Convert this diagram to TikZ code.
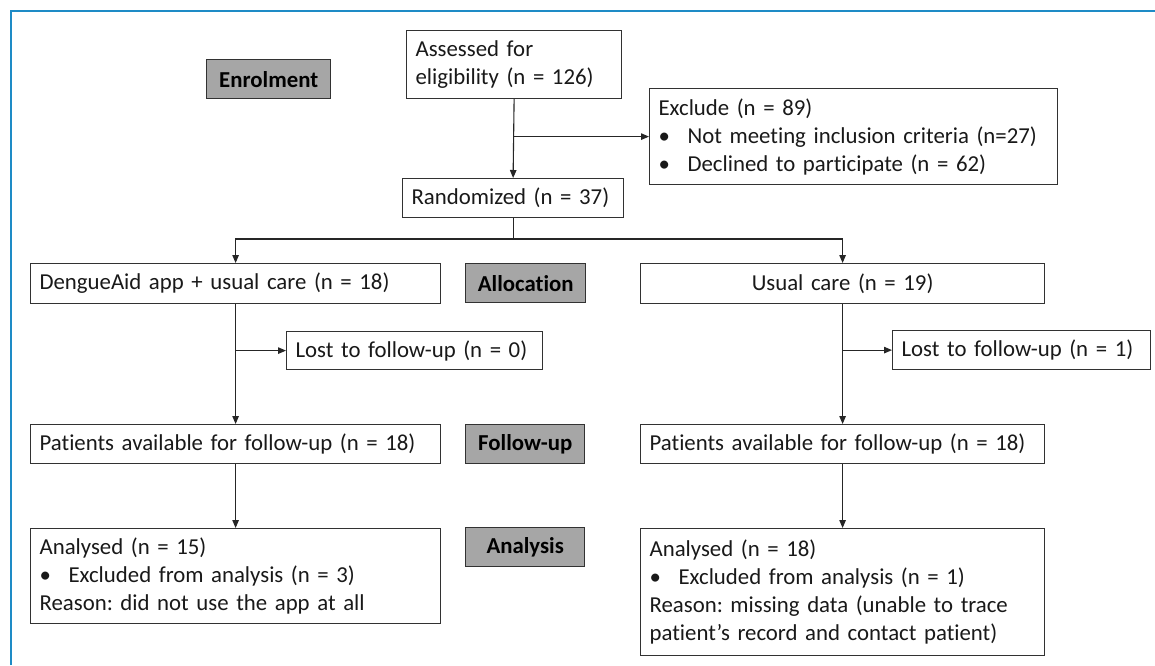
\documentclass[tikz,border=0pt]{standalone}
\usepackage{fontspec}
\setmainfont{Carlito}[Ligatures=NoCommon, WordSpace=0.85]
\frenchspacing
\usetikzlibrary{arrows.meta}
\definecolor{frameblue}{RGB}{30,139,198}
\definecolor{labelgray}{RGB}{166,166,166}
\definecolor{edge}{RGB}{50,50,50}
\tikzset{
  box/.style={draw=edge, line width=1.2pt, fill=white, anchor=north west, inner xsep=9pt, inner ysep=0pt,
    font=\fontsize{22.8}{28}\selectfont, text=black!90, align=left},
  stage/.style={draw=edge, line width=1.4pt, fill=labelgray, anchor=north west, inner sep=0pt,
    font=\fontsize{22.8}{28}\selectfont\bfseries, align=center},
  arr/.style={draw=black!85, line width=1.1pt, -{Triangle[length=8pt,width=6.5pt]}},
  conn/.style={draw=black!85, line width=1.1pt}
}
\newcommand\bul{\makebox[29pt][l]{\textbullet}}
\begin{document}
\begin{tikzpicture}[x=1pt,y=-1pt]
\useasboundingbox (0,0) rectangle (1155,665);
\fill[white] (0,0) rectangle (1155,665);
\draw[frameblue, line width=2.2pt] (11,665) -- (11,11) -- (1155,11);

\node[stage, minimum width=124pt, minimum height=39pt] (enrol) at (206,59) {Enrolment};
\node[box, text width=197pt, minimum width=215pt, minimum height=68pt] (assess) at (406,30) {Assessed for\\eligibility (n = 126)};
\node[box, text width=390pt, minimum width=408pt, minimum height=96pt] (excl) at (649,88)
  {Exclude (n = 89)\\\bul Not meeting inclusion criteria (n=27)\\\bul Declined to participate (n = 62)};
\node[box, text width=203pt, minimum width=221pt, minimum height=39pt] (rand) at (402,178) {Randomized (n = 37)};

\node[box, text width=392pt, minimum width=410pt, minimum height=40pt] (dengue) at (30,263) {DengueAid app + usual care (n = 18)};
\node[stage, minimum width=120pt, minimum height=39pt] (alloc) at (465,263) {Allocation};
\node[box, text width=386pt, minimum width=404pt, minimum height=40pt, align=center] (usual) at (640,263) {Usual care (n = 19)};

\node[box, text width=238pt, minimum width=256pt, minimum height=38pt] (lostL) at (286,331) {Lost to follow-up (n = 0)};
\node[box, text width=240pt, minimum width=258pt, minimum height=39pt] (lostR) at (892,330) {Lost to follow-up (n = 1)};

\node[box, text width=392pt, minimum width=410pt, minimum height=39pt] (patL) at (30,424) {Patients available for follow-up (n = 18)};
\node[stage, minimum width=119pt, minimum height=39pt] (follow) at (465,424) {Follow-up};
\node[box, text width=386pt, minimum width=404pt, minimum height=39pt] (patR) at (640,424) {Patients available for follow-up (n = 18)};

\node[box, text width=392pt, minimum width=410pt, minimum height=95pt] (anaL) at (30,528)
  {Analysed (n = 15)\\\bul Excluded from analysis (n = 3)\\Reason: did not use the app at all};
\node[stage, minimum width=119pt, minimum height=39pt] (analysis) at (465,527) {Analysis};
\node[box, text width=386pt, minimum width=404pt, minimum height=127pt] (anaR) at (640,528)
  {Analysed (n = 18)\\\bul Excluded from analysis (n = 1)\\Reason: missing data (unable to trace\\patient’s record and contact patient)};

% connectors
\draw[arr] (assess.south) -- (rand.north);
\draw[arr] (assess.south |- excl.west) -- (excl.west);
\coordinate (split) at (rand.south |- 0,239);
\draw[conn] (rand.south) -- (split);
\draw[arr] (split) -| (dengue.north);
\draw[arr] (split) -| (usual.north);
\draw[arr] (dengue.south) -- (patL.north);
\draw[arr] (dengue.south |- lostL.west) -- (lostL.west);
\draw[arr] (usual.south) -- (patR.north);
\draw[arr] (usual.south |- lostR.west) -- (lostR.west);
\draw[arr] (patL.south) -- (anaL.north);
\draw[arr] (patR.south) -- (anaR.north);
\end{tikzpicture}
\end{document}
